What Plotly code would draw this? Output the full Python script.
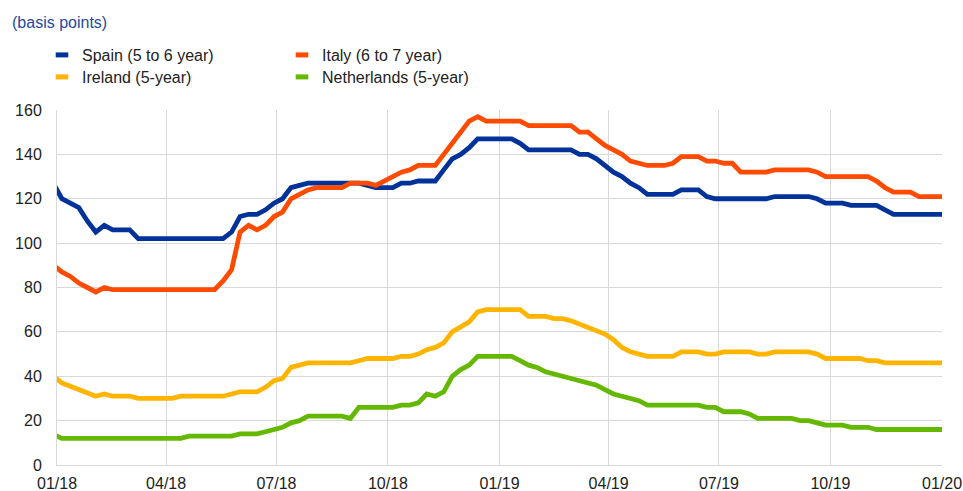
import pandas as pd
import plotly.graph_objects as go

# Weekly (Friday) observations, 29 Dec 2017 .. 3 Jan 2020
dates = pd.date_range("2017-12-29", periods=106, freq="7D")

spain = [127, 120, 118, 116, 110, 105, 108, 106, 106, 106,
         102, 102, 102, 102, 102, 102, 102, 102, 102, 102,
         102, 105, 112, 113, 113, 115, 118, 120, 125, 126,
         127, 127, 127, 127, 127, 127, 127, 126, 125, 125,
         125, 127, 127, 128, 128, 128, 133, 138, 140, 143,
         147, 147, 147, 147, 147, 145, 142, 142, 142, 142,
         142, 142, 140, 140, 138, 135, 132, 130, 127, 125,
         122, 122, 122, 122, 124, 124, 124, 121, 120, 120,
         120, 120, 120, 120, 120, 121, 121, 121, 121, 121,
         120, 118, 118, 118, 117, 117, 117, 117, 115, 113,
         113, 113, 113, 113, 113, 113]

italy = [90, 87, 85, 82, 80, 78, 80, 79, 79, 79,
         79, 79, 79, 79, 79, 79, 79, 79, 79, 79,
         83, 88, 105, 108, 106, 108, 112, 114, 120, 122,
         124, 125, 125, 125, 125, 127, 127, 127, 126, 128,
         130, 132, 133, 135, 135, 135, 140, 145, 150, 155,
         157, 155, 155, 155, 155, 155, 153, 153, 153, 153,
         153, 153, 150, 150, 147, 144, 142, 140, 137, 136,
         135, 135, 135, 136, 139, 139, 139, 137, 137, 136,
         136, 132, 132, 132, 132, 133, 133, 133, 133, 133,
         132, 130, 130, 130, 130, 130, 130, 128, 125, 123,
         123, 123, 121, 121, 121, 121]

ireland = [40, 37, 35.5, 34, 33, 31, 32, 31, 31, 31,
           30, 30, 30, 30, 30, 31, 31, 31, 31, 31,
           31, 32, 33, 33, 33, 35, 38, 39, 44, 45,
           46, 46, 46, 46, 46, 46, 47, 48, 48, 48,
           48, 49, 49, 50, 52, 53, 55, 60, 62.5, 64.5,
           69, 70, 70, 70, 70, 70, 67, 67, 67, 66,
           66, 65, 63.5, 62, 61, 59, 56.5, 53, 51, 50,
           49, 49, 49, 49, 51, 51, 51, 50, 50, 51,
           51, 51, 51, 50, 50, 51, 51, 51, 51, 51,
           50, 48, 48, 48, 48, 48, 47, 47, 46, 46,
           46, 46, 46, 46, 46, 46]

netherlands = [13.7, 12, 12, 12, 12, 12, 12, 12, 12, 12,
               12, 12, 12, 12, 12, 12, 13, 13, 13, 13,
               13, 13, 14, 14, 14, 15, 16, 17, 19, 20,
               22, 22, 22, 22, 22, 21, 26, 26, 26, 26,
               26, 27, 27, 28, 32, 31, 33, 40, 43, 45,
               49, 49, 49, 49, 49, 47, 45, 44, 42, 41,
               40, 39, 38, 37, 36, 34, 32, 31, 30, 29,
               27, 27, 27, 27, 27, 27, 27, 26, 26, 24,
               24, 24, 23, 21, 21, 21, 21, 21, 20, 20,
               19, 18, 18, 18, 17, 17, 17, 16, 16, 16,
               16, 16, 16, 16, 16, 16]

series_names = ["Spain (5 to 6 year)", "Italy (6 to 7 year)",
                "Ireland (5-year)", "Netherlands (5-year)"]
series_values = [spain, italy, ireland, netherlands]
series_colors = ["#003299", "#FF4B00", "#FFB400", "#65B800"]

tick_vals = ["2018-01-01", "2018-04-01", "2018-07-01", "2018-10-01", "2019-01-01",
             "2019-04-01", "2019-07-01", "2019-10-01", "2020-01-01"]
tick_text = ["01/18", "04/18", "07/18", "10/18", "01/19",
             "04/19", "07/19", "10/19", "01/20"]

FONT = "Liberation Sans, Arial, sans-serif"
TXT = "#222222"

# plot area geometry (pixels)
L, T, W, H = 57, 110, 885, 355

fig = go.Figure()
for name, vals, col in zip(series_names, series_values, series_colors):
    fig.add_trace(go.Scatter(x=dates, y=vals, mode="lines", name=name,
                             line=dict(color=col, width=4.8),
                             showlegend=False))

# one legend box per entry (2 x 2 grid), short thick bar symbols
legend_ids = ["legend", "legend2", "legend3", "legend4"]
legend_pos = [(42, 38), (282, 38), (42, 60), (282, 60)]  # (left px, top px)
layout_legends = {}
for name, col, lid, (lx, ly) in zip(series_names, series_colors, legend_ids, legend_pos):
    fig.add_trace(go.Scatter(x=[None], y=[None], mode="markers", name=name,
                             marker=dict(symbol="line-ew", size=9, color=col,
                                         line=dict(color=col, width=7)),
                             legend=lid, showlegend=True))
    layout_legends[lid] = dict(x=(lx - L) / W, xanchor="left",
                               y=1 + (T - ly) / H, yanchor="top",
                               orientation="v", bgcolor="rgba(0,0,0,0)",
                               font=dict(family=FONT, size=16, color=TXT))

fig.update_layout(
    width=963, height=491,
    margin=dict(l=L, r=963 - L - W, t=T, b=491 - T - H, autoexpand=False),
    paper_bgcolor="white", plot_bgcolor="white",
    font=dict(family=FONT, size=16, color=TXT),
    xaxis=dict(type="date", range=["2018-01-01", "2020-01-01"],
               tickvals=tick_vals, ticktext=tick_text,
               showgrid=True, gridcolor="#D9D9D9", gridwidth=1,
               showline=True, linecolor="#D9D9D9", linewidth=1,
               ticks="", zeroline=False, ticklabelstandoff=4,
               tickfont=dict(family=FONT, size=16, color=TXT)),
    yaxis=dict(range=[0, 160], dtick=20, tick0=0,
               showgrid=True, gridcolor="#D9D9D9", gridwidth=1,
               showline=True, linecolor="#D9D9D9", linewidth=1,
               ticks="", zeroline=False, ticklabelstandoff=11,
               tickfont=dict(family=FONT, size=16, color=TXT)),
    annotations=[dict(text="(basis points)", xref="paper", yref="paper",
                      x=(10 - L) / W, xanchor="left",
                      y=1 + (T - 23) / H, yanchor="middle",
                      showarrow=False,
                      font=dict(family=FONT, size=16, color="#2449A0"))],
    **layout_legends,
)

fig.write_html("out.html",
               config={"displayModeBar": False},
               post_script="document.body.style.margin='0';document.body.style.padding='0';")
